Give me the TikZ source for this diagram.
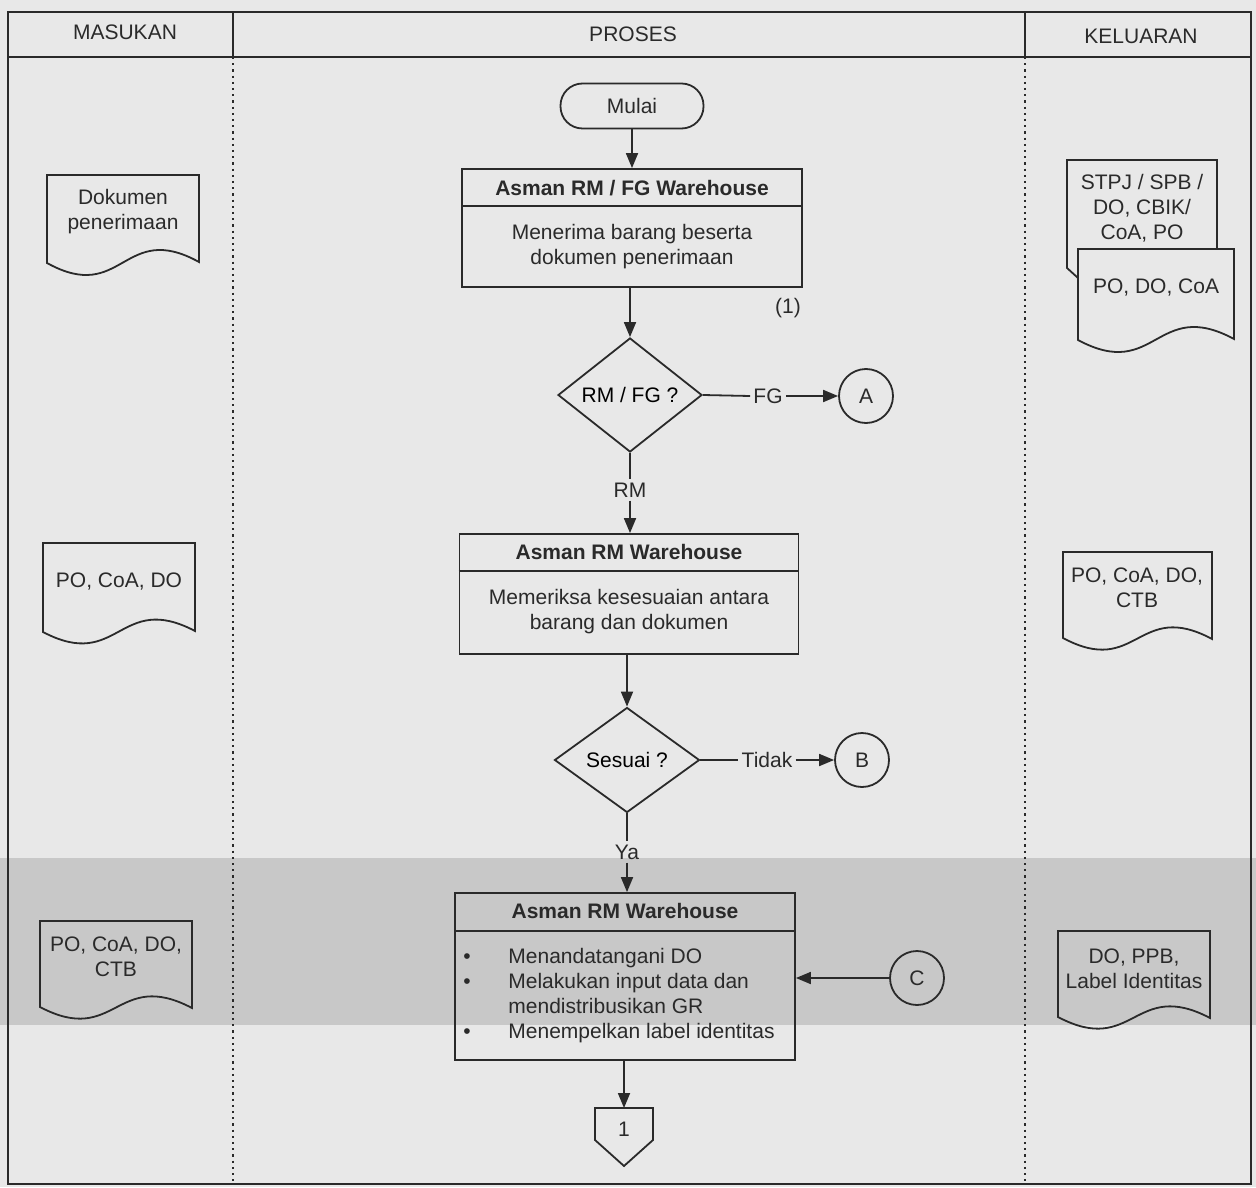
\documentclass[tikz,border=0pt]{standalone}
\usepackage{fontspec}
\setmainfont{Liberation Sans}
\usetikzlibrary{shapes.geometric,arrows.meta,calc}
\definecolor{bg}{HTML}{E8E8E8}
\definecolor{band}{HTML}{C8C8C8}
\definecolor{ink}{HTML}{2A2A2A}
\newcommand{\DocShape}[7][]{% [opts] x1 x2 top lb rb a
  \draw[docline,#1] (#2,#4) -- (#3,#4) -- (#3,#6)
    .. controls ({(#2+#3)/2},{#6-#7}) and ({(#2+#3)/2},{#5+#7}) .. (#2,#5) -- cycle;}
\begin{document}
\begin{tikzpicture}[x=0.5pt,y=-0.5pt,
  font=\fontsize{10.5}{12.5}\selectfont,
  lbl/.style={inner sep=1.5pt, text=ink, align=center},
  ttl/.style={inner sep=1pt, text=ink, font=\fontsize{10.5}{12.5}\selectfont\bfseries},
  ln/.style={draw=ink, line width=0.9pt},
  docline/.style={draw=ink, line width=0.9pt},
  arr/.style={draw=ink, line width=0.9pt, -{Triangle[length=7.5pt,width=6pt]}},
  frame/.style={draw=ink, line width=1.1pt},
  sep/.style={draw=ink, line width=1.1pt, dotted},
  procbox/.style={draw=ink, line width=0.9pt, inner sep=0pt},
  decision/.style={diamond, draw=ink, line width=0.9pt, inner sep=0pt},
  conn/.style={circle, draw=ink, line width=0.9pt, minimum size=27pt, inner sep=0pt, text=ink},
  bul/.style={inner sep=0pt, text=ink, anchor=base},
  btxt/.style={inner sep=0pt, text=ink, anchor=base west}]
% background
\useasboundingbox (0,0) rectangle (1256,1187);
\fill[bg] (0,0) rectangle (1256,1187);
\fill[band] (0,858) rectangle (1256,1025);
% frame and lanes
\draw[frame] (8,12) rectangle (1251,1184);
\draw[frame] (8,57) -- (1251,57);
\draw[frame] (233,12) -- (233,57);
\draw[frame] (1025,12) -- (1025,57);
\draw[sep] (233,57) -- (233,1184);
\draw[sep] (1025,57) -- (1025,1184);
\node[lbl] (hin) at (125,32) {MASUKAN};
\node[lbl] (hpr) at (633,34) {PROSES};
\node[lbl] (hout) at (1141,36) {KELUARAN};
% process column
\node[draw=ink, line width=0.9pt, rounded corners=11pt, minimum width=71.5pt, minimum height=22.5pt, text=ink] (start) at (632,106) {Mulai};
\node[procbox, minimum width=170pt, minimum height=59pt] (b1) at (632,228) {};
\draw[ln] ([yshift=-19pt]b1.north west) -- ([yshift=-19pt]b1.north east);
\node[ttl] (b1t) at (632,188) {Asman RM / FG Warehouse};
\node[lbl] (b1b) at (632,247) {Menerima barang beserta\\dokumen penerimaan};
\node[lbl] (one) at (788,308) {(1)};
\node[decision, minimum width=72pt, minimum height=57pt] (d1) at (630,395) {RM / FG ?};
\node[lbl] (fg) at (768,396) {FG};
\node[conn] (A) at (866,396) {A};
\node[lbl] (rm) at (630,490) {RM};
\node[procbox, minimum width=169.5pt, minimum height=60pt] (b2) at (629,594) {};
\draw[ln] ([yshift=-19pt]b2.north west) -- ([yshift=-19pt]b2.north east);
\node[ttl] (b2t) at (629,552) {Asman RM Warehouse};
\node[lbl] (b2b) at (629,612) {Memeriksa kesesuaian antara\\barang dan dokumen};
\node[decision, minimum width=72.5pt, minimum height=52.5pt] (d2) at (627,760) {Sesuai ?};
\node[lbl] (tidak) at (767,760) {Tidak};
\node[conn] (B) at (862,760) {B};
\node[lbl] (ya) at (627,852) {Ya};
\node[procbox, minimum width=170pt, minimum height=83.5pt] (b3) at (625,976.5) {};
\draw[ln] ([yshift=-19.5pt]b3.north west) -- ([yshift=-19.5pt]b3.north east);
\node[ttl] (b3t) at (625,911) {Asman RM Warehouse};
\node[bul] (u1) at (467,963) {\textbullet};
\node[btxt] (t1) at (508,963) {Menandatangani DO};
\node[bul] (u2) at (467,988) {\textbullet};
\node[btxt] (t2) at (508,988) {Melakukan input data dan};
\node[btxt] (t3) at (508,1013) {mendistribusikan GR};
\node[bul] (u3) at (467,1038) {\textbullet};
\node[btxt] (t4) at (508,1038) {Menempelkan label identitas};
\node[conn] (C) at (917,978) {C};
\draw[ln] (595,1108) -- (653,1108) -- (653,1140) -- (624,1166) -- (595,1140) -- cycle;
\coordinate (p1top) at (624,1108);
\node[lbl] (p1) at (624,1129) {1};
% connectors
\draw[arr] (start.south) -- (start.south |- b1.north);
\draw[arr] (d1.north |- b1.south) -- (d1.north);
\draw[ln] (d1.east) -- (fg.west);
\draw[arr] (fg.east) -- (A.west);
\draw[ln] (d1.south) -- (rm.north);
\draw[arr] (rm.south) -- (rm.south |- b2.north);
\draw[arr] (d2.north |- b2.south) -- (d2.north);
\draw[ln] (d2.east) -- (tidak.west);
\draw[arr] (tidak.east) -- (B.west);
\draw[ln] (d2.south) -- (ya.north);
\draw[arr] (ya.south) -- (ya.south |- b3.north);
\draw[arr] (C.west) -- (C.west -| b3.east);
\draw[arr] (p1top |- b3.south) -- (p1top);
% documents: masukan
\DocShape{47}{199}{175}{263}{262}{42}
\node[lbl] (dk1) at (123,212) {Dokumen\\penerimaan};
\DocShape{43}{195}{543}{632}{631}{40}
\node[lbl] (dk2) at (119,582) {PO, CoA, DO};
\DocShape{40}{192}{921}{1007}{1008}{40}
\node[lbl] (dk3) at (116,957) {PO, CoA, DO,\\CTB};
% documents: keluaran
\draw[docline] (1078,278) -- (1067,268) -- (1067,160) -- (1217,160) -- (1217,249);
\node[lbl] (dk4) at (1142,208) {STPJ / SPB /\\DO, CBIK/\\CoA, PO};
\DocShape[fill=bg]{1078}{1234}{249}{340}{339}{42}
\node[lbl] (dk5) at (1156,288) {PO, DO, CoA};
\DocShape{1063}{1212}{552}{638}{639}{40}
\node[lbl] (dk6) at (1137,588) {PO, CoA, DO,\\CTB};
\DocShape{1058}{1210}{931}{1017}{1018}{40}
\node[lbl] (dk7) at (1134,969) {DO, PPB,\\Label Identitas};
\end{tikzpicture}
\end{document}
